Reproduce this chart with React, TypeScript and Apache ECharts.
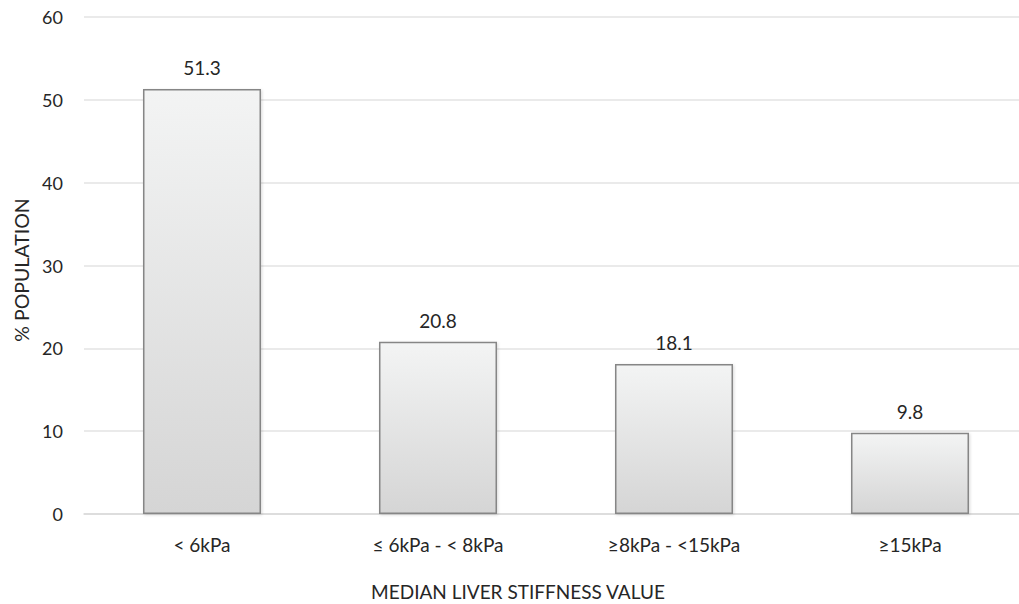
import React, { useEffect, useRef } from "react";
import * as echarts from "echarts";

const categories = ["< 6kPa", "≤ 6kPa - < 8kPa", "≥8kPa - <15kPa", "≥15kPa"];
const populationPct = [51.3, 20.8, 18.1, 9.8];
const yTicks = { min: 0, max: 60, interval: 10 };
const xTitle = "MEDIAN LIVER STIFFNESS VALUE";
const yTitle = "% POPULATION";

const FONT = "Lato, 'Open Sans', sans-serif";
const TEXT = "#262626";

export default function App() {
  const ref = useRef<HTMLDivElement>(null);

  useEffect(() => {
    if (!ref.current) return;
    const chart = echarts.init(ref.current, undefined, { renderer: "svg" });
    chart.setOption({
      animation: false,
      backgroundColor: "#ffffff",
      grid: {
        left: 84,
        top: 17,
        width: 944,
        height: 497,
        outerBoundsMode: "none",
        containLabel: false,
      },
      xAxis: {
        type: "category",
        data: categories,
        axisLine: { lineStyle: { color: "#d9d9d9", width: 1.5 } },
        axisTick: { show: false },
        axisLabel: { fontFamily: FONT, fontSize: 19, color: TEXT, margin: 21 },
      },
      yAxis: {
        type: "value",
        min: yTicks.min,
        max: yTicks.max,
        interval: yTicks.interval,
        axisLine: { show: false },
        axisTick: { show: false },
        axisLabel: { fontFamily: FONT, fontSize: 18, color: TEXT, margin: 21 },
        splitLine: { lineStyle: { color: "#e3e3e3", width: 1.5 } },
      },
      graphic: [
        {
          type: "text",
          x: 518,
          y: 591,
          style: {
            text: xTitle,
            fontFamily: FONT,
            fontSize: 19,
            fill: TEXT,
            align: "center",
            verticalAlign: "middle",
          },
        },
        {
          type: "text",
          x: 21,
          y: 270,
          rotation: Math.PI / 2,
          style: {
            text: yTitle,
            fontFamily: FONT,
            fontSize: 19.5,
            fill: TEXT,
            align: "center",
            verticalAlign: "middle",
          },
        },
      ],
      series: [
        {
          type: "bar",
          data: populationPct,
          barWidth: "50%",
          itemStyle: {
            color: new echarts.graphic.LinearGradient(0, 0, 0, 1, [
              { offset: 0, color: "#f3f4f4" },
              { offset: 1, color: "#d5d5d5" },
            ]),
            borderColor: "#868686",
            borderWidth: 1.5,
            shadowColor: "rgba(0,0,0,0.15)",
            shadowBlur: 3,
            shadowOffsetX: 1,
            shadowOffsetY: 1,
          },
          label: {
            show: true,
            position: "top",
            distance: 12,
            fontFamily: FONT,
            fontSize: 19,
            color: TEXT,
            formatter: (p: any) => Number(p.value).toFixed(1),
          },
        },
      ],
    });
    return () => chart.dispose();
  }, []);

  return (
    <div
      ref={ref}
      style={{ position: "fixed", left: 0, top: 0, width: 1019, height: 604 }}
    />
  );
}
